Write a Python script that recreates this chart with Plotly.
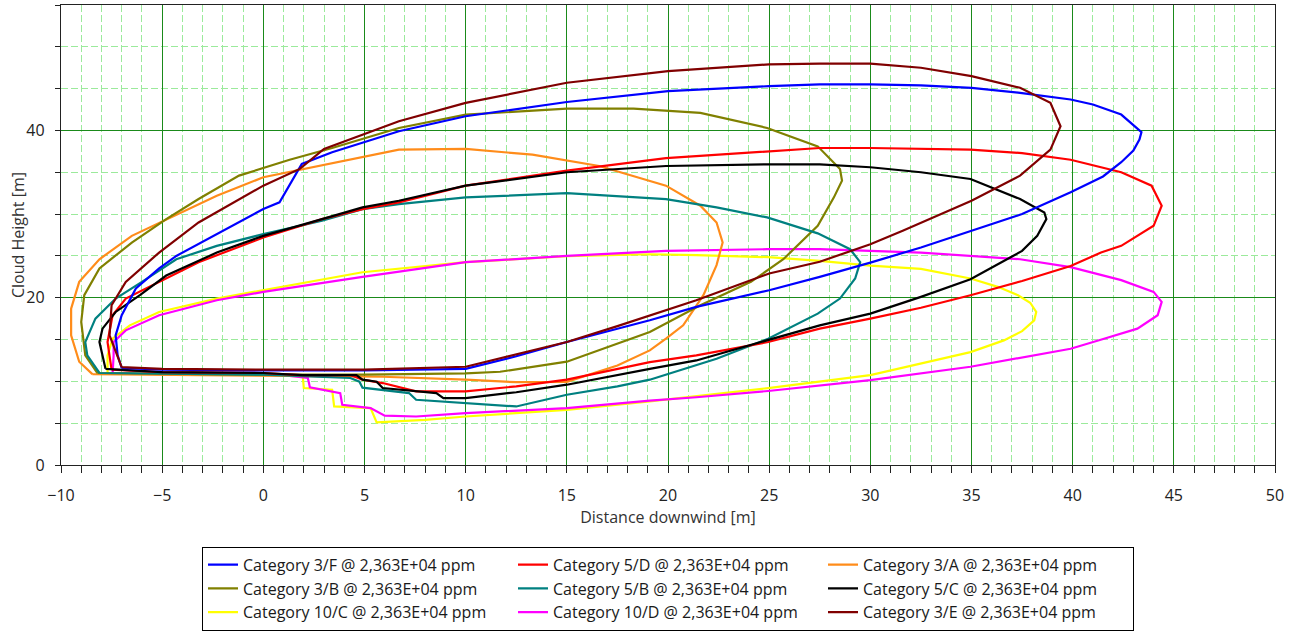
import plotly.graph_objects as go

# ---------------- data (closed cloud contours, x = distance downwind [m], y = height [m]) -------------
cat_3F_x = [-7.0, -5, 0, 5, 10, 12.5, 15, 17.5, 19.1, 21.4, 25, 27.5, 30, 32.5, 35, 37.5, 39.9, 41.5, 42.4, 43.0, 43.3,
            43.4, 42.4, 41.0, 39.9, 37.4, 35, 32.5, 30, 27.5, 25, 20, 15, 10, 6.7, 3.4, 1.9, 1.3, 0.8, 0, -2.5, -4.3,
            -5.15, -6.3, -7.0, -7.3, -7.2, -7.0]
cat_3F_y = [11.6, 11.4, 11.3, 11.3, 11.5, 13.0, 14.7, 16.3, 17.3, 18.9, 20.9, 22.5, 24.2, 26.0, 28.0, 30.0, 32.6, 34.5,
            36.2, 37.6, 38.9, 39.8, 41.9, 43.1, 43.7, 44.5, 45.1, 45.4, 45.5, 45.5, 45.3, 44.7, 43.4, 41.7, 39.9, 37.4,
            36.0, 33.5, 31.4, 30.6, 27.4, 25.0, 23.5, 21.1, 17.9, 15.5, 13.1, 11.6]

cat_5D_x = [-7.5, -5, 0, 1.8, 4.3, 4.9, 5.9, 7.55, 10, 12.5, 15, 17.5, 19.1, 21.4, 24.95, 27.5, 30, 32.5, 34.95, 37.5,
            39.9, 41.4, 42.4, 44.0, 44.4, 43.9, 42.4, 39.9, 37.5, 34.95, 30, 27.5, 24.9, 19.9, 15, 10, 6.7, 4.9, 2.9,
            0, -3.2, -5.15, -6.8, -7.45, -7.7, -7.5]
cat_5D_y = [11.4, 11.1, 11.0, 10.75, 10.75, 10.2, 9.8, 8.8, 8.8, 9.4, 10.2, 11.5, 12.3, 13.1, 14.7, 16.3, 17.5, 18.8,
            20.3, 22.0, 23.8, 25.4, 26.2, 28.6, 31.0, 33.4, 35.0, 36.5, 37.3, 37.7, 37.9, 37.9, 37.5, 36.7, 35.2, 33.4,
            31.4, 30.6, 29.4, 27.2, 24.25, 21.9, 19.9, 17.9, 14.7, 11.4]

cat_3A_x = [-8.45, -5, 0, 5.9, 10, 12.5, 15, 16.6, 17.5, 19.1, 19.9, 20.75, 21.4, 21.75, 22.4, 22.7, 22.4, 21.6, 19.9,
            16.6, 13.3, 10, 6.7, 5.1, 3.4, 0, -2.3, -4.8, -6.5, -8.1, -9.1, -9.5, -9.5, -9.1, -8.45]
cat_3A_y = [10.87, 10.8, 10.75, 10.55, 10.2, 9.9, 9.95, 11.15, 11.9, 13.7, 15.1, 16.7, 19.1, 20.3, 23.9, 26.6, 29.0,
            31.0, 33.4, 35.75, 37.1, 37.8, 37.7, 36.9, 36.1, 34.4, 32.2, 29.4, 27.4, 24.6, 21.9, 18.7, 15.5, 12.35, 10.87]

cat_3B_x = [-8.2, -5, 0, 5, 10, 11.7, 15, 19.1, 21.6, 24.1, 25.7, 27.4, 28.2, 28.6, 28.5, 27.4, 24.9, 21.6, 18.3, 15,
            10, 6.7, 3.4, 1.3, -1.2, -3.2, -4.8, -6.5, -8.1, -8.85, -9.0, -8.8, -8.2]
cat_3B_y = [11.0, 10.9, 10.8, 10.8, 10.95, 11.15, 12.35, 15.9, 19.1, 21.9, 24.6, 28.6, 32.0, 34.0, 35.4, 38.1, 40.3,
            42.1, 42.6, 42.6, 41.9, 40.3, 37.9, 36.5, 34.6, 31.8, 29.4, 26.6, 23.5, 20.3, 17.1, 13.1, 11.0]

cat_5B_x = [-8.1, -5, 0, 4.3, 4.75, 4.9, 7.2, 7.55, 10, 12.5, 15, 17.5, 19.1, 21.4, 22.4, 24.95, 27.4, 28.5, 29.25,
            29.5, 29.0, 27.4, 24.9, 22.4, 19.9, 15, 10, 6.7, 4.9, 2.9, 0, -2.3, -4.3, -6.0, -7.3, -8.3, -8.8, -8.7, -8.1]
cat_5B_y = [11.0, 10.9, 10.8, 10.4, 9.96, 9.25, 8.6, 7.8, 7.4, 7.0, 8.4, 9.4, 10.2, 11.9, 12.7, 15.1, 18.1, 19.9, 22.3,
            24.25, 25.8, 27.7, 29.6, 30.8, 31.8, 32.5, 32.0, 31.2, 30.6, 29.2, 27.6, 26.2, 24.6, 21.9, 19.9, 17.5, 14.7,
            13.1, 11.0]

cat_5C_x = [-7.8, -5, 0, 1.95, 4.6, 4.9, 5.6, 5.9, 8.55, 8.9, 10, 12.5, 15, 17.5, 19.1, 21.4, 24.95, 27.5, 30, 32.5,
            34.95, 36.6, 37.5, 38.25, 38.7, 38.6, 37.4, 34.95, 32.5, 30, 27.5, 24.9, 19.9, 15, 10, 6.7, 4.9, 2.9, 0,
            -2.3, -4.8, -6.1, -7.3, -7.95, -8.1, -7.8]
cat_5C_y = [11.5, 11.1, 11.0, 10.75, 10.75, 10.2, 9.96, 9.2, 8.6, 8.0, 8.0, 8.7, 9.6, 10.8, 11.5, 12.5, 14.9, 16.7,
            18.1, 20.1, 22.2, 24.4, 25.6, 27.4, 29.4, 30.2, 31.8, 34.2, 35.0, 35.6, 35.95, 35.95, 35.75, 35.0, 33.4,
            31.6, 30.8, 29.4, 27.4, 25.4, 22.65, 20.3, 18.3, 16.3, 14.7, 11.5]

cat_10C_x = [-7.7, -5, 0, 1.95, 2.0, 3.4, 3.5, 5.3, 5.6, 8, 10, 15, 19.1, 21.4, 24.95, 30, 34.95, 36.6, 37.5, 38.1,
             38.2, 37.9, 37.3, 36.3, 34.95, 32.5, 30, 27.5, 24.95, 21.4, 19.1, 15, 10, 4.9, 0, -2.3, -5.15, -6.6,
             -7.45, -7.7, -7.7]
cat_10C_y = [10.95, 10.85, 10.8, 10.6, 9.2, 9.0, 7.0, 6.8, 5.1, 5.4, 5.8, 6.6, 7.6, 8.2, 9.2, 10.75, 13.5, 14.9, 16.0,
             17.3, 18.3, 19.4, 20.3, 21.3, 22.3, 23.45, 23.85, 24.4, 24.85, 25.1, 25.2, 24.96, 24.25, 23.05, 20.9, 19.9,
             18.3, 16.7, 15.1, 13.1, 10.95]

cat_10D_x = [-7.45, -5, 0.96, 2.2, 2.3, 3.8, 3.9, 5.3, 6.0, 7.55, 10, 15, 19.1, 21.4, 24.95, 30, 34.95, 39.9, 41.55,
             43.2, 44.2, 44.4, 44.0, 42.4, 39.9, 37.4, 32.5, 27.5, 24.9, 19.9, 15, 10, 4.9, 0, -2.3, -5.15, -6.8,
             -7.4, -7.4, -7.45]
cat_10D_y = [10.95, 10.85, 10.75, 10.4, 9.3, 8.6, 7.2, 6.8, 5.9, 5.8, 6.2, 6.8, 7.7, 8.1, 8.85, 10.15, 11.75, 13.9,
             15.1, 16.3, 17.9, 19.5, 20.7, 22.1, 23.65, 24.6, 25.4, 25.8, 25.8, 25.6, 25.0, 24.25, 22.5, 20.7, 19.7,
             17.9, 16.1, 14.7, 13.1, 10.95]

cat_3E_x = [-7.0, -5, 0, 5, 10, 12.5, 15, 17.5, 19.1, 21.4, 25, 27.5, 30, 31.6, 35, 37.4, 38.9, 39.4, 38.9, 37.4, 35,
            32.5, 30, 27.5, 25, 20, 15, 10, 6.7, 4.9, 3.0, 1.8, 0, -3.2, -5.15, -6.8, -7.5, -7.6, -7.0]
cat_3E_y = [11.7, 11.5, 11.4, 11.4, 11.75, 13.2, 14.7, 16.6, 17.9, 19.7, 22.9, 24.3, 26.4, 28.0, 31.6, 34.6, 37.7,
            40.5, 43.3, 45.1, 46.5, 47.5, 48.0, 48.0, 47.9, 47.1, 45.7, 43.3, 41.1, 39.5, 37.8, 35.4, 33.4, 29.0, 25.4,
            21.9, 19.1, 15.5, 11.7]

series_names = ["Category 3/F @ 2,363E+04 ppm", "Category 5/D @ 2,363E+04 ppm", "Category 3/A @ 2,363E+04 ppm",
                "Category 3/B @ 2,363E+04 ppm", "Category 5/B @ 2,363E+04 ppm", "Category 5/C @ 2,363E+04 ppm",
                "Category 10/C @ 2,363E+04 ppm", "Category 10/D @ 2,363E+04 ppm", "Category 3/E @ 2,363E+04 ppm"]
series_x = [cat_3F_x, cat_5D_x, cat_3A_x, cat_3B_x, cat_5B_x, cat_5C_x, cat_10C_x, cat_10D_x, cat_3E_x]
series_y = [cat_3F_y, cat_5D_y, cat_3A_y, cat_3B_y, cat_5B_y, cat_5C_y, cat_10C_y, cat_10D_y, cat_3E_y]
series_colors = ["#0000FF", "#FF0000", "#FF8C1A", "#808000", "#008080", "#000000", "#FFFF00", "#FF00FF", "#800000"]

x_title = "Distance downwind [m]"
y_title = "Cloud Height [m]"

# draw order: later traces on top (brown on top, as in reference)
draw_order = [6, 7, 2, 3, 4, 1, 5, 0, 8]

fig = go.Figure()
for i in range(len(series_names)):
    fig.add_trace(go.Scatter(
        x=series_x[i], y=series_y[i], mode="lines", name=series_names[i],
        line=dict(color=series_colors[i], width=2.2),
        legendrank=i + 1,
    ))
fig.data = tuple(fig.data[k] for k in draw_order)

FONT = "Open Sans, Noto Sans, sans-serif"
fig.update_layout(
    width=1299, height=636,
    margin=dict(l=61, r=24, t=5, b=169),
    paper_bgcolor="white", plot_bgcolor="white",
    font=dict(family=FONT, size=16, color="#222222"),
    showlegend=True,
    legend=dict(
        orientation="h", x=0.5, xanchor="center", y=-0.1775, yanchor="top",
        entrywidth=265, entrywidthmode="pixels",
        bordercolor="#000000", borderwidth=1, bgcolor="white",
        font=dict(family=FONT, size=16, color="#1A1A1A"),
        traceorder="normal",
    ),
    annotations=[dict(
        text=y_title, textangle=-90, showarrow=False,
        xref="paper", yref="paper", x=0, y=0.5, xanchor="center", yanchor="middle",
        xshift=-43, font=dict(family=FONT, size=16, color="#333333"),
    )],
)
GRID_MAJOR = "#1A8A1A"
GRID_MINOR = "#9BEA9B"
fig.update_xaxes(
    range=[-10, 50], dtick=5, tick0=0,
    showgrid=True, gridcolor=GRID_MAJOR, gridwidth=1.2,
    showline=True, linecolor="#222222", linewidth=1.3, mirror=True,
    ticks="outside", ticklen=7, tickcolor="#222222",
    zeroline=False, automargin=False, ticklabelstandoff=9,
    title=dict(text=x_title, font=dict(size=16, color="#333333"), standoff=6),
    tickfont=dict(size=16, color="#222222"),
    minor=dict(dtick=1, showgrid=True, gridcolor=GRID_MINOR, griddash="7px,3px", gridwidth=1,
               ticks="outside", ticklen=7, tickcolor="#222222"),
)
fig.update_yaxes(
    range=[0, 55], dtick=20, tick0=0,
    showgrid=True, gridcolor=GRID_MAJOR, gridwidth=1.2,
    showline=True, linecolor="#222222", linewidth=1.3, mirror=True,
    ticks="outside", ticklen=5, tickcolor="#222222",
    zeroline=False, automargin=False, ticklabelstandoff=7,
    tickfont=dict(size=16, color="#222222"),
    minor=dict(dtick=5, showgrid=True, gridcolor=GRID_MINOR, griddash="7px,3px", gridwidth=1,
               ticks="outside", ticklen=5, tickcolor="#222222"),
)

fig.write_html("out.html", config={"displayModeBar": False},
               post_script="document.body.style.margin='0px';")
